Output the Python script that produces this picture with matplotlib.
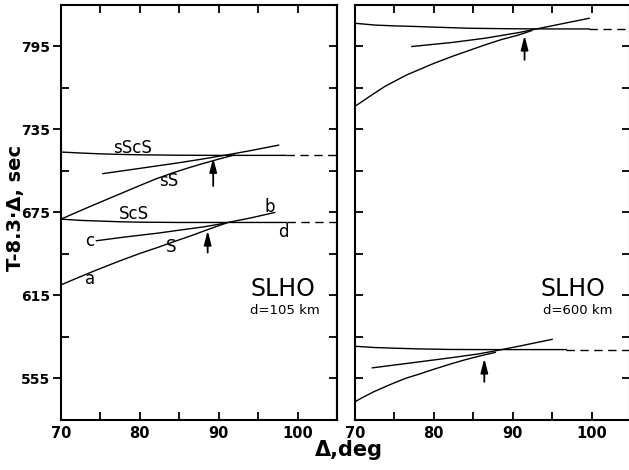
import numpy as np
import matplotlib
matplotlib.use("Agg")
import matplotlib.pyplot as plt

# travel-time branches, reduced time T - 8.3*Delta (sec)
# --- d = 105 km
l_sscs_x = [70, 72.5, 75, 77.5, 80, 85, 90, 95, 98.5]
l_sscs_y = [718.7, 718.0, 717.4, 717.0, 716.7, 716.4, 716.3, 716.3, 716.3]
l_sscs_dash_x = [98.5, 105]
l_sscs_dash_y = [716.3, 716.3]
l_ss_up_x = [75.3, 80, 85, 88, 91, 94, 97.6]
l_ss_up_y = [703.1, 706.9, 711.0, 713.7, 716.6, 719.7, 723.7]
l_ss_x = [70, 72, 74, 76, 78, 80, 82, 84, 86, 88, 90, 92]
l_ss_y = [670.2, 675.2, 680.1, 684.9, 689.7, 694.5, 699.2, 703.3, 707.0, 710.4, 713.6, 716.6]

l_scs_x = [70, 72.5, 75, 77.5, 80, 85, 90, 95, 98.6]
l_scs_y = [670.2, 669.3, 668.8, 668.3, 668.0, 667.8, 667.8, 667.8, 667.8]
l_scs_dash_x = [98.6, 105]
l_scs_dash_y = [667.8, 667.8]
l_cb_x = [74.5, 78, 82.3, 86, 88.2, 90, 94, 97.1]
l_cb_y = [654.6, 657.2, 660.1, 663.0, 664.7, 666.5, 671.0, 675.0]
l_s_x = [70, 72, 73.8, 76, 78.1, 80, 82.3, 84, 86.5, 88.2, 90, 91]
l_s_y = [622.7, 627.5, 631.8, 636.8, 641.4, 645.4, 649.8, 653.3, 658.2, 661.8, 665.5, 667.4]

# --- d = 600 km
r_top_x = [70, 72.5, 75, 78.1, 80, 84.4, 90, 95, 99.7]
r_top_y = [811.8, 810.5, 809.9, 809.4, 809.0, 808.2, 807.8, 807.7, 807.7]
r_top_dash_x = [99.7, 105]
r_top_dash_y = [807.7, 807.7]
r_tan_x = [77.2, 82.3, 86.5, 90.8, 95, 99.7]
r_tan_y = [795.0, 797.9, 801.0, 805.1, 810.0, 815.4]
r_br_x = [70, 71, 72.3, 73.8, 75, 76.5, 78.1, 80, 82.3, 84.5, 86.5, 88.5, 90.8, 92.4]
r_br_y = [751.8, 755.6, 760.6, 766.2, 769.8, 774.3, 778.2, 782.8, 787.8, 792.2, 796.2, 799.9, 803.4, 806.5]

r_bot_x = [70, 72.5, 75, 78.1, 82, 85.7, 90, 96.8]
r_bot_y = [578.3, 577.4, 576.9, 576.4, 576.0, 575.9, 575.9, 575.9]
r_bot_dash_x = [96.8, 105]
r_bot_dash_y = [575.9, 575.9]
r_tan2_x = [72.2, 78.1, 82.3, 85.7, 87.8, 91, 95]
r_tan2_y = [562.7, 567.0, 570.1, 572.8, 575.0, 578.6, 583.3]
r_br2_x = [70, 71, 72.3, 73.8, 75, 76.5, 78.1, 80, 82.3, 84, 85.7, 87.8]
r_br2_y = [538.2, 541.4, 545.2, 549.0, 551.9, 555.3, 558.1, 561.7, 565.8, 568.6, 571.1, 573.9]

# arrows: (Delta, tail, tip)
l_arrows = [(89.3, 694.2, 714.6), (88.6, 646.0, 662.0)]
r_arrows = [(91.5, 785.4, 803.0), (86.4, 552.6, 569.5)]

# phase labels (Delta, T, text)
l_labels = [(79.1, 721.8, "sScS"), (83.6, 697.8, "sS"), (79.2, 673.8, "ScS"),
            (96.5, 678.8, "b"), (98.2, 660.6, "d"), (73.7, 654.6, "c"),
            (84.0, 649.8, "S"), (73.7, 627.0, "a")]

W, H = 629, 470
fig = plt.figure(figsize=(W / 100, H / 100), dpi=100)
ax1 = fig.add_axes([61 / W, 1 - 420 / H, 276 / W, 415 / H])
ax2 = fig.add_axes([355 / W, 1 - 420 / H, 275 / W, 415 / H])

lw = 1.0
for ax, xmax in ((ax1, 105), (ax2, 70 + 275 / 7.886)):
    ax.set_xlim(70, xmax)
    ax.set_ylim(525, 825)
    for s in ax.spines.values():
        s.set_linewidth(1.5)
    ax.set_xticks([70, 80, 90, 100])
    ax.set_xticks([75, 85, 95], minor=True)
    ax.tick_params(axis="x", which="both", direction="in", top=True, length=6,
                   width=1.3, pad=4, labelsize=10.5)
    for t in ax.get_xticklabels():
        t.set_fontweight("bold")
    ax.set_yticks(np.arange(555, 800, 60))
    ax.set_yticks(np.arange(585, 800, 60), minor=True)

# left panel: labelled ticks out, minor in, right side all in
ax1.tick_params(axis="y", which="major", direction="out", right=False, length=6,
                width=1.3, pad=1.5, labelsize=10)
ax1.tick_params(axis="y", which="minor", direction="in", right=False, length=6, width=1.3)
for t in ax1.get_yticklabels():
    t.set_fontweight("bold")
sec = ax1.secondary_yaxis("right")
sec.set_yticks(np.arange(555, 800, 30))
sec.tick_params(direction="in", length=6, width=1.3, labelright=False)
sec.spines["right"].set_linewidth(1.5)

# right panel: no labels, ticks in on both sides
ax2.set_yticks(np.arange(555, 800, 30))
ax2.set_yticks([], minor=True)
ax2.tick_params(axis="y", which="both", direction="in", left=True, right=True,
                labelleft=False, length=6, width=1.3)

# curves
ax1.plot(l_sscs_x, l_sscs_y, color="k", lw=lw)
ax1.plot(l_sscs_dash_x, l_sscs_dash_y, color="k", lw=lw, ls=(0, (6, 4)))
ax1.plot(l_ss_up_x, l_ss_up_y, color="k", lw=lw)
ax1.plot(l_ss_x, l_ss_y, color="k", lw=lw)
ax1.plot(l_scs_x, l_scs_y, color="k", lw=lw)
ax1.plot(l_scs_dash_x, l_scs_dash_y, color="k", lw=lw, ls=(0, (6, 4)))
ax1.plot(l_cb_x, l_cb_y, color="k", lw=lw)
ax1.plot(l_s_x, l_s_y, color="k", lw=lw)

ax2.plot(r_top_x, r_top_y, color="k", lw=lw)
ax2.plot(r_top_dash_x, r_top_dash_y, color="k", lw=lw, ls=(0, (6, 4)))
ax2.plot(r_tan_x, r_tan_y, color="k", lw=lw)
ax2.plot(r_br_x, r_br_y, color="k", lw=lw)
ax2.plot(r_bot_x, r_bot_y, color="k", lw=lw)
ax2.plot(r_bot_dash_x, r_bot_dash_y, color="k", lw=lw, ls=(0, (6, 4)))
ax2.plot(r_tan2_x, r_tan2_y, color="k", lw=lw)
ax2.plot(r_br2_x, r_br2_y, color="k", lw=lw)

for ax, arrows in ((ax1, l_arrows), (ax2, r_arrows)):
    for x, tail, tip in arrows:
        ax.annotate("", xy=(x, tip), xytext=(x, tail),
                    arrowprops=dict(arrowstyle="-|>,head_length=0.7,head_width=0.18",
                                    color="k", lw=1.3, mutation_scale=12,
                                    shrinkA=0, shrinkB=0))

for x, y, s in l_labels:
    ax1.text(x, y, s, fontsize=12, ha="center", va="center")

ax1.text(98.1, 619.8, "SLHO", fontsize=17, ha="center", va="center")
ax1.text(98.4, 604.2, "d=105 km", fontsize=9.5, ha="center", va="center")
ax2.text(97.6, 619.8, "SLHO", fontsize=17, ha="center", va="center")
ax2.text(98.2, 604.2, "d=600 km", fontsize=9.5, ha="center", va="center")

fig.text(15 / W, 1 - 208 / H, "T-8.3·Δ, sec", rotation=90, fontsize=14,
         fontweight="bold", ha="center", va="center")
fig.text(349 / W, 1 - 450 / H, "Δ,deg", fontsize=15, fontweight="bold",
         ha="center", va="center")

fig.savefig("out.png", dpi=100)
